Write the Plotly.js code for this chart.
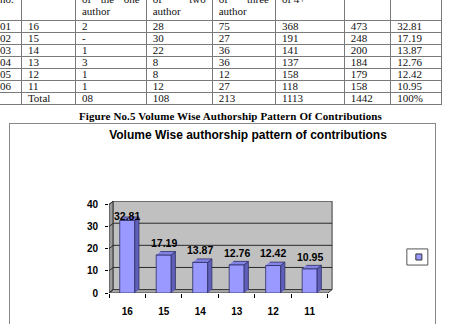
<!DOCTYPE html>
<html><head><meta charset="utf-8">
<script src="https://cdn.plot.ly/plotly-3.0.1.min.js"></script>
<style>
html,body{margin:0;padding:0;width:449px;height:324px;overflow:hidden;background:#fff;}
#tbl{position:absolute;left:-7px;top:-10px;border-collapse:collapse;table-layout:fixed;font-family:"Liberation Serif",serif;font-size:11px;color:#111;}
#tbl td{border:1px solid #7a7a7a;padding:0 0 0 6px;height:11px;line-height:11px;vertical-align:middle;white-space:nowrap;overflow:hidden;}
#tbl tr.hd td{height:26px;line-height:12px;vertical-align:bottom;padding-bottom:3px;padding-right:6px;white-space:normal;text-align:justify;}
#cap{position:absolute;left:6px;top:110px;width:449px;text-align:center;font-family:"Liberation Serif",serif;font-weight:bold;font-size:11px;line-height:12px;color:#000;letter-spacing:0.1px;}
#box{position:absolute;left:9px;top:123px;width:425px;height:213px;border:1px solid #888;}
#chart{width:425px;height:213px;}
</style>
</head><body>
<table id="tbl">
<colgroup><col style="width:28px"><col style="width:56px"><col style="width:73px"><col style="width:68px"><col style="width:65px"><col style="width:72px"><col style="width:48px"><col style="width:52px"></colgroup>
<tbody id="tb"></tbody>
</table>
<div id="cap">Figure No.5 Volume Wise Authorship Pattern Of Contributions</div>
<div id="box"><div id="chart"></div></div>
<script>
// ---- data ----
const serialNo = ["01","02","03","04","05","06"];
const volumes = ["16","15","14","13","12","11"];
const oneAuthor = ["2","-","1","3","1","1"];
const twoAuthors = ["28","30","22","8","8","12"];
const threeAuthors = ["75","27","36","36","12","27"];
const fourPlusAuthors = ["368","191","141","137","158","118"];
const totalContrib = ["473","248","200","184","179","158"];
const percentShare = [32.81, 17.19, 13.87, 12.76, 12.42, 10.95];
const totalRow = ["", "Total", "08", "108", "213", "1113", "1442", "100%"];
const headerRow = ["no.<br>&nbsp;", "", "of the one author", "of two author", "of three author", "of 4+<br>&nbsp;", "", ""];
const yTicks = [0, 10, 20, 30, 40];
const chartTitle = "Volume Wise authorship pattern of contributions";

// ---- table ----
const tb = document.getElementById('tb');
let html = '<tr class="hd">' + headerRow.map(h => '<td>' + h + '</td>').join('') + '</tr>';
for (let i = 0; i < serialNo.length; i++) {
  const row = [serialNo[i], volumes[i], oneAuthor[i], twoAuthors[i], threeAuthors[i], fourPlusAuthors[i], totalContrib[i], percentShare[i].toFixed(2)];
  html += '<tr>' + row.map(c => '<td>' + c + '</td>').join('') + '</tr>';
}
html += '<tr>' + totalRow.map(c => '<td>' + c + '</td>').join('') + '</tr>';
tb.innerHTML = html;

// ---- chart ----
const W = 425, H = 213;
const ml = 99, mb = 44.3;
const pxX = 36.5, pxY = 2.1925;
const xr = [-0.5, 5.64], yr = [0, 41.6];
const pw = (xr[1] - xr[0]) * pxX, ph = (yr[1] - yr[0]) * pxY;
const mr = W - ml - pw, mt = H - mb - ph;
const dx = 4.2 / pxX, dy = 3.4 / pxY;   // 3-D depth offsets in data units
const bw = 15 / pxX;                    // bar width
const n = volumes.length;
const xs = volumes.map((_, i) => i);
const x0 = -0.5, x1 = n - 0.5;

const shapes = [];
// left wall
shapes.push({type:'path', layer:'below', xref:'x', yref:'y',
  path:`M${x0},0 L${x0},40 L${x0+dx},${40+dy} L${x0+dx},${dy} Z`,
  fillcolor:'#9a9a9a', line:{color:'#3a3a3a', width:1}});
// back wall
shapes.push({type:'rect', layer:'below', xref:'x', yref:'y',
  x0:x0+dx, x1:x1+dx, y0:dy, y1:40+dy, fillcolor:'#c0c0c0', line:{color:'#3a3a3a', width:1}});
// floor
shapes.push({type:'path', layer:'below', xref:'x', yref:'y',
  path:`M${x0},0 L${x1},0 L${x1+dx},${dy} L${x0+dx},${dy} Z`,
  fillcolor:'#a8a8a8', line:{color:'#3a3a3a', width:1}});
// gridlines on back wall and diagonals on side wall
yTicks.forEach(t => {
  if (t > 0 && t < 40) shapes.push({type:'line', layer:'below', xref:'x', yref:'y',
    x0:x0+dx, x1:x1+dx, y0:t+dy, y1:t+dy, line:{color:'#2a2a2a', width:1}});
  shapes.push({type:'line', layer:'below', xref:'x', yref:'y',
    x0:x0, x1:x0+dx, y0:t, y1:t+dy, line:{color:'#2a2a2a', width:1}});
});
// legend box (decoration)
const px2x = p => (p - ml) / pw, px2y = p => (H - mb - p) / ph;
shapes.push({type:'rect', xref:'paper', yref:'paper', x0:px2x(397), x1:px2x(418), y0:px2y(141), y1:px2y(125),
  fillcolor:'#fff', line:{color:'#555', width:1}});
shapes.push({type:'rect', xref:'paper', yref:'paper', x0:px2x(406), x1:px2x(412), y0:px2y(136), y1:px2y(130),
  fillcolor:'#9999ff', line:{color:'#333', width:1}});

// side & top faces
const sideX = [], sideY = [], topX = [], topY = [];
percentShare.forEach((v, i) => {
  const r = i + bw / 2, l = i - bw / 2;
  sideX.push(r, r, r + dx, r + dx, null); sideY.push(0, v, v + dy, dy, null);
  topX.push(l, r, r + dx, l + dx, null); topY.push(v, v, v + dy, v + dy, null);
});

const traces = [
  {type:'bar', x:xs, y:percentShare, width:bw, marker:{color:'#9999ff', line:{color:'#2e2e66', width:0.8}},
   hoverinfo:'skip', showlegend:false},
  {type:'scatter', mode:'lines', x:sideX, y:sideY, fill:'toself', fillcolor:'#5f5fba',
   line:{color:'#2e2e66', width:0.8}, hoverinfo:'skip', showlegend:false},
  {type:'scatter', mode:'lines', x:topX, y:topY, fill:'toself', fillcolor:'#8383e6',
   line:{color:'#2e2e66', width:0.8}, hoverinfo:'skip', showlegend:false}
];

const lblFont = {family:'Liberation Sans, Arial, sans-serif', size:10.5, weight:'bold', color:'#000'};
const annotations = percentShare.map((v, i) => ({
  x:i, y:Math.min(v + 5.5, 34.7), xref:'x', yref:'y', text:v.toFixed(2), showarrow:false,
  font:lblFont, yanchor:'middle', xanchor:'center'
}));

const tickFont = {family:'Liberation Sans, Arial, sans-serif', size:10, weight:'bold', color:'#000'};
const layout = {
  width:W, height:H,
  margin:{l:ml, r:mr, t:mt, b:mb, pad:0, autoexpand:false},
  paper_bgcolor:'#fff', plot_bgcolor:'#fff',
  showlegend:false,
  title:{text:chartTitle, font:{family:'Liberation Sans, Arial, sans-serif', size:12, weight:'bold', color:'#000'},
    xref:'container', yref:'container', x:238/W, xanchor:'center', y:1 - 11/H, yanchor:'middle'},
  xaxis:{range:xr, tickmode:'array', tickvals:xs, ticktext:volumes, ticks:'', showgrid:false, zeroline:false,
    showline:false, tickfont:tickFont, ticklabelstandoff:11,
    minor:{tickmode:'array', tickvals:xs.concat([n]).map(v => v - 0.5), ticks:'outside', ticklen:4, tickcolor:'#000', tickwidth:1, showgrid:false}},
  yaxis:{range:yr, tickmode:'array', tickvals:yTicks, ticks:'outside', ticklen:3, tickcolor:'#000',
    showgrid:false, zeroline:false, showline:false, tickfont:tickFont, ticklabelstandoff:5},
  shapes:shapes, annotations:annotations, bargap:0
};
Plotly.newPlot('chart', traces, layout, {staticPlot:true, displayModeBar:false});
</script>
</body></html>
